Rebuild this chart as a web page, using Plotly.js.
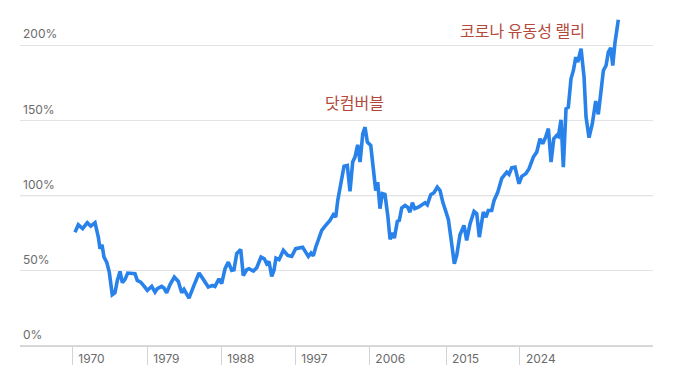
<!DOCTYPE html>
<html>
<head>
<meta charset="utf-8">
<script src="https://cdn.plot.ly/plotly-3.0.1.min.js"></script>
<style>html,body{margin:0;padding:0;background:#fff;}#chart{width:685px;height:377px;}</style>
</head>
<body>
<div id="chart"></div>
<script>
// time position of each traced vertex (decimal years)
const periods = [
1970.00,1970.33,1970.77,1971.23,1971.58,1972.01,1972.34,1972.51,1972.71,1972.91,
1973.18,1973.44,1973.74,1974.01,1974.25,1974.52,1974.75,1975.02,1975.29,1975.69,
1976.02,1976.25,1976.59,1976.93,1977.26,1977.70,1978.03,1978.26,1978.70,1978.93,
1979.20,1979.54,1979.97,1980.37,1980.71,1980.94,1981.44,1981.94,1982.45,1982.88,
1983.38,1983.78,1984.05,1984.45,1984.72,1985.06,1985.39,1985.73,1985.96,1986.23,
1986.63,1986.89,1987.23,1987.46,1987.90,1988.24,1988.67,1989.00,1989.24,1989.47,
1989.74,1989.97,1990.17,1990.48,1990.91,1991.35,1991.75,1992.15,1992.58,1992.85,
1993.09,1993.42,1993.69,1993.92,1994.16,1994.42,1994.76,1995.16,1995.59,1995.93,
1996.17,1996.37,1996.50,1996.70,1997.00,1997.33,1997.60,1997.87,1998.10,1998.37,
1998.61,1998.88,1999.11,1999.34,1999.68,1999.94,2000.18,2000.38,2000.61,2000.84,
2001.11,2001.39,2001.62,2001.85,2002.05,2002.35,2002.55,2002.79,2003.12,2003.39,
2003.62,2003.86,2004.10,2004.46,2004.90,2005.13,2005.36,2005.70,2006.03,2006.36,
2006.64,2006.91,2007.24,2007.47,2007.74,2008.07,2008.31,2008.64,2009.04,2009.31,
2009.65,2010.05,2010.32,2010.58,2010.98,2011.25,2011.48,2011.82,2012.06,2012.43,
2012.83,2013.33,2013.56,2013.83,2014.16,2014.56,2014.84,2015.24,2015.57,2016.00,
2016.34,2016.67,2016.94,2017.24,2017.51,2017.78,2018.05,2018.35,2018.51,2018.78,
2019.01,2019.28,2019.51,2019.78,2020.02,2020.26,2020.46,2020.79,2021.09,2021.29,
2021.59,2021.92,2022.26,2022.52,2022.80,2023.03,2023.30,2023.53,2023.77,2023.97,
2024.20,2024.53
];
// ratio in percent
const ratio = [
75.7,80.6,78.0,82.0,79.7,82.0,72.4,64.7,67.3,59.1,
55.8,49.1,34.1,35.4,43.6,49.6,42.1,44.3,48.5,48.1,
48.1,43.6,42.5,39.8,37.0,39.6,35.8,38.1,39.6,38.5,
35.4,40.8,45.8,42.9,35.4,37.6,31.8,40.3,48.5,44.3,
39.2,40.3,39.6,44.7,41.4,51.4,55.8,50.3,50.7,61.4,
64.2,46.9,50.7,51.4,49.8,52.1,59.1,58.0,54.7,56.2,
46.3,50.3,58.4,57.4,63.6,60.2,59.6,64.7,65.7,65.7,
63.1,59.6,61.8,60.0,65.7,71.3,76.9,80.2,83.5,87.3,
85.7,96.8,101.3,107.5,119.6,120.1,102.8,122.3,125.6,133.8,
122.3,141.1,145.5,135.6,133.4,117.9,103.4,109.0,91.3,101.3,
100.8,86.8,70.9,75.3,71.7,82.8,83.5,91.7,93.5,92.3,
89.0,95.3,91.3,92.3,93.9,95.3,93.9,100.6,101.9,105.6,
103.4,95.7,89.0,84.2,71.3,54.7,60.2,74.0,80.2,70.2,
81.3,89.5,88.0,72.4,89.0,85.7,90.1,90.1,96.8,102.3,
111.4,115.6,114.1,118.5,118.9,107.9,112.8,114.5,117.9,125.6,
128.9,137.8,134.5,138.9,144.5,122.3,137.8,140.0,139.3,150.4,
118.9,157.8,158.8,177.7,183.2,192.1,188.7,197.6,178.8,152.2,
138.5,147.8,162.8,154.0,169.9,183.2,186.5,195.4,198.3,186.5,
202.0,216.9
];
const tickLabels = ['1970','1979','1988','1997','2006','2015','2024'];
const tickPositions = [1969.73,1977.26,1984.68,1992.11,1999.54,2007.24,2014.66];
const yTicks = [0,50,100,150,200];
const yTickLabels = ['0%','50%','100%','150%','200%'];
const notes = [
  {text:'닷컴버블', x:1998.1, y:162},
  {text:'코로나 유동성 랠리', x:2014.9, y:210.3}
];

const trace = {
  x: periods, y: ratio, type:'scatter', mode:'lines',
  line:{color:'#2882ea', width:3.6}, hoverinfo:'skip'
};

const layout = {
  width:685, height:377,
  margin:{l:20, r:32, t:10, b:31},
  paper_bgcolor:'#fff', plot_bgcolor:'#fff',
  showlegend:false,
  font:{family:'Inter, "Noto Sans", sans-serif', color:'#666', size:12},
  xaxis:{
    range:[1964.48, 2028.01],
    tickvals:tickPositions, ticktext:tickLabels,
    showgrid:false, zeroline:false,
    showline:true, linecolor:'#d4d4d4', linewidth:1,
    ticks:'outside', ticklen:18, tickcolor:'#d4d4d4', tickwidth:1,
    ticklabelposition:'outside right', ticklabelshift:5, ticklabelstandoff:2,
    tickfont:{family:'Inter, sans-serif', size:12, color:'#6b6b6b'}
  },
  yaxis:{
    range:[0, 223.4],
    tickvals:yTicks, ticktext:yTickLabels,
    showgrid:true, gridcolor:'#e3e3e3', gridwidth:1,
    zeroline:false, showline:false, ticks:'',
    ticklabelposition:'inside', ticklabelshift:-11, ticklabelstandoff:0,
    tickfont:{family:'Inter, sans-serif', size:12, color:'#6b6b6b'}
  },
  shapes:[
    {type:'line', xref:'paper', x0:0, x1:1, yref:'y', y0:100, y1:100, line:{color:'#9a9a9a', width:1}, layer:'below'},
    {type:'line', xref:'paper', x0:0, x1:1, yref:'y', y0:0, y1:0, line:{color:'#b5b5b5', width:1}, layer:'below'}
  ],
  annotations: notes.map(n => ({
    text:n.text, x:n.x, y:n.y, xref:'x', yref:'y', showarrow:false,
    xanchor:'center', yanchor:'middle',
    font:{family:'"Noto Sans CJK KR", sans-serif', size:16, color:'#b3493a'}
  }))
};

Plotly.newPlot('chart', [trace], layout, {displayModeBar:false, staticPlot:true});
</script>
</body>
</html>
